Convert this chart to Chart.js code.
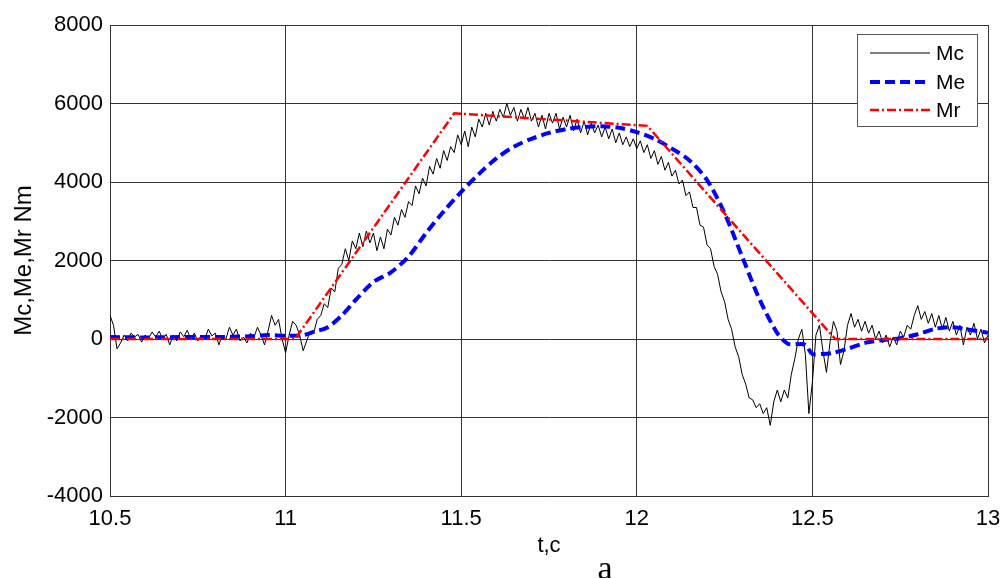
<!DOCTYPE html>
<html>
<head>
<meta charset="utf-8">
<script src="https://cdn.jsdelivr.net/npm/chart.js@4.4.0/dist/chart.umd.min.js"></script>
<style>
  html, body { margin: 0; padding: 0; background: #fff; }
  #wrap { width: 1003px; height: 578px; position: relative; }
</style>
</head>
<body>
<div id="wrap"><canvas id="torqueChart"></canvas></div>
<script>
// Mc: sampled every 0.01 s from 10.50 to 13.00
const mcStart = 10.5;
const mcStep = 0.01;
const mcValues = [
  600, 350, -250, -100, 100, -50, 150, 50, 120, -80,
  100, 20, 180, 50, 200, 0, 120, -150, 100, -50,
  180, 60, 220, 0, 150, -50, 100, 0, 250, 80,
  150, -150, 100, 0, 300, 100, 250, -50, 50, -100,
  150, 50, 300, 100, -150, 200, 600, 350, 500, 0,
  -350, 100, 450, 350, 100, -300, -50, 200, 150, 500,
  600, 900, 800, 1300, 1200, 1800, 1900, 2300, 2000, 2500,
  2300, 2700, 2350, 2750, 2450, 2700, 2250, 2600, 2300, 2800,
  2650, 3100, 2900, 3300, 3100, 3500, 3400, 3900, 3700, 4100,
  3900, 4400, 4200, 4600, 4350, 4800, 4550, 4900, 4750, 5200,
  4950, 5300, 4900, 5400, 5150, 5600, 5400, 5750, 5450, 5800,
  5550, 5850, 5650, 6000, 5700, 5900, 5550, 5850, 5600, 5900,
  5550, 5750, 5400, 5700, 5350, 5750, 5500, 5750, 5350, 5650,
  5400, 5700, 5300, 5600, 5250, 5550, 5200, 5500, 5250, 5450,
  5150, 5400, 5100, 5350, 5000, 5250, 4950, 5150, 4900, 5100,
  4850, 5050, 4750, 4950, 4600, 4800, 4450, 4650, 4300, 4500,
  4150, 4300, 3950, 4050, 3650, 3750, 3350, 3350, 2900, 2850,
  2400, 2300, 1850, 1650, 1200, 950, 500, 250, -200, -450,
  -900, -1150, -1500, -1550, -1750, -1650, -1900, -1750, -2200, -1600,
  -1300, -1600, -1300, -1500, -900, -500, 0, 250, -400, -1900,
  -1100, 100, 350, -300, -850, -100, 450, 200, -650, -300,
  350, 650, 300, 500, 200, 450, 150, 350, 0, 200,
  -100, 100, -200, 50, -150, 200, 50, 350, 250, 600,
  850, 500, 700, 400, 650, 300, 600, 250, 550, 200,
  450, 100, 350, -150, 300, 100, 400, 0, 250, -100,
  100
];

const meTimes = [10.5, 10.6, 10.7, 10.8, 10.9, 10.95, 11.0, 11.05, 11.08, 11.12, 11.16, 11.2, 11.25, 11.3, 11.35,
  11.4, 11.45, 11.5, 11.55, 11.6, 11.65, 11.7, 11.75, 11.8, 11.85, 11.9, 11.95, 12.0, 12.05, 12.1, 12.15,
  12.2, 12.25, 12.3, 12.35, 12.4, 12.43, 12.46, 12.48, 12.5, 12.53, 12.56, 12.6, 12.65, 12.7, 12.75, 12.8,
  12.85, 12.9, 12.95, 13.0];
const meValues = [50, 40, 50, 50, 70, 100, 80, 100, 180, 300, 600, 1000, 1450, 1700, 2100,
  2700, 3250, 3750, 4200, 4600, 4900, 5100, 5250, 5350, 5400, 5420, 5380, 5270, 5100, 4850, 4550,
  4050, 3200, 2100, 1000, 150, -120, -130, -150, -380, -380, -350, -250, -100, -30, 20, 120,
  260, 300, 230, 160];

const mrTimes = [10.5, 11.027, 11.48, 12.03, 12.565, 13.0];
const mrValues = [0, 0, 5750, 5430, 0, 0];

const xTicks = [10.5, 11, 11.5, 12, 12.5, 13];
const yTicks = [-4000, -2000, 0, 2000, 4000, 6000, 8000];

const seriesNames = ['Mc', 'Me', 'Mr'];
const seriesColors = ['#000000', '#0000ff', '#ff0000'];
const seriesWidths = [1, 4, 2.5];
const seriesDash = [[], [10, 5], [9, 3, 2, 3]];

const FONT = "'Liberation Sans', Arial, sans-serif";

const mcData = mcValues.map((v, i) => ({ x: +(mcStart + i * mcStep).toFixed(2), y: v }));
const meData = meTimes.map((t, i) => ({ x: t, y: meValues[i] }));
const mrData = mrTimes.map((t, i) => ({ x: t, y: mrValues[i] }));

const legendAndCaption = {
  id: 'legendAndCaption',
  afterDraw(chart) {
    const ctx = chart.ctx;
    ctx.save();
    // legend box
    const bx = 857, by = 34, bw = 120, bh = 92;
    ctx.fillStyle = '#fff';
    ctx.fillRect(bx, by, bw, bh);
    ctx.strokeStyle = '#555';
    ctx.lineWidth = 1;
    ctx.setLineDash([]);
    ctx.strokeRect(bx + 0.5, by + 0.5, bw, bh);
    const rows = [53, 82, 110];
    seriesNames.forEach((name, i) => {
      ctx.beginPath();
      ctx.strokeStyle = seriesColors[i];
      ctx.lineWidth = seriesWidths[i];
      ctx.setLineDash(seriesDash[i]);
      ctx.moveTo(870, rows[i]);
      ctx.lineTo(930, rows[i]);
      ctx.stroke();
      ctx.setLineDash([]);
      ctx.fillStyle = '#000';
      ctx.font = '21px ' + FONT;
      ctx.textBaseline = 'middle';
      ctx.textAlign = 'left';
      ctx.fillText(name, 936, rows[i] + 1);
    });
    // caption letter under the chart
    ctx.fillStyle = '#000';
    ctx.font = "34px 'Liberation Serif', 'Times New Roman', serif";
    ctx.textAlign = 'center';
    ctx.textBaseline = 'alphabetic';
    ctx.fillText('a', 605, 579);
    ctx.restore();
  }
};

new Chart(document.getElementById('torqueChart'), {
  type: 'line',
  data: {
    datasets: [
      { label: 'Mc', data: mcData, borderColor: seriesColors[0], borderWidth: seriesWidths[0], borderDash: seriesDash[0], pointRadius: 0, tension: 0, order: 3 },
      { label: 'Me', data: meData, borderColor: seriesColors[1], borderWidth: seriesWidths[1], borderDash: seriesDash[1], pointRadius: 0, tension: 0.3, order: 2 },
      { label: 'Mr', data: mrData, borderColor: seriesColors[2], borderWidth: seriesWidths[2], borderDash: seriesDash[2], pointRadius: 0, tension: 0, order: 1 }
    ]
  },
  options: {
    responsive: true,
    maintainAspectRatio: false,
    animation: false,
    layout: { padding: { top: 25, right: 15, left: 0, bottom: 0 } },
    plugins: { legend: { display: false }, tooltip: { enabled: false } },
    scales: {
      x: {
        type: 'linear', min: 10.5, max: 13,
        afterFit: s => { s.height = 82; s.paddingLeft = 0; s.paddingRight = 0; },
        afterBuildTicks: s => { s.ticks = xTicks.map(v => ({ value: v })); },
        ticks: { color: '#000', font: { family: FONT, size: 22 }, padding: 10, maxRotation: 0, callback: v => String(+v.toFixed(1)) },
        grid: { color: '#333', lineWidth: 1, drawTicks: false },
        border: { color: '#333' },
        title: { display: true, text: 't,c', color: '#000', font: { family: FONT, size: 22 }, padding: { top: 0, bottom: 19 } }
      },
      y: {
        min: -4000, max: 8000,
        afterFit: s => { s.width = 110; s.paddingTop = 0; s.paddingBottom = 0; },
        afterBuildTicks: s => { s.ticks = yTicks.map(v => ({ value: v })); },
        ticks: { color: '#000', font: { family: FONT, size: 22 }, padding: 7, callback: v => String(v) },
        grid: { color: '#333', lineWidth: 1, drawTicks: false },
        border: { color: '#333' },
        title: { display: true, text: 'Mc,Me,Mr Nm', color: '#000', font: { family: FONT, size: 24 }, padding: { top: 10, bottom: 0 } }
      }
    }
  },
  plugins: [legendAndCaption]
});
</script>
</body>
</html>
